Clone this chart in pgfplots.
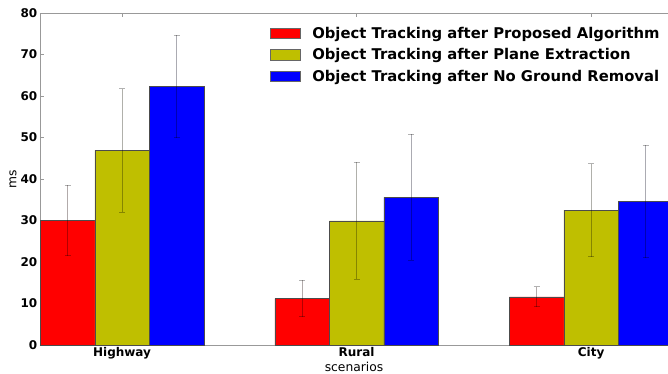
\documentclass[border=0pt]{standalone}
\usepackage{fontspec}
\setmainfont{DejaVu Sans}
\usepackage{pgfplots}
\pgfplotsset{compat=1.18}
\definecolor{myyellow}{HTML}{BFBF00}
\begin{document}
\begin{tikzpicture}
\useasboundingbox (-40pt,-28pt) rectangle (628pt,345pt);
\begin{axis}[
  scale only axis,
  width=628pt, height=332pt,
  xmin=-0.35, xmax=2.328,
  ymin=0, ymax=80,
  ytick={0,10,...,80},
  xtick={0,1,2},
  xticklabels={Highway,Rural,City},
  separate axis lines,
  axis x line*=box,
  axis y line*=left,
  axis line style={draw=black!40, line width=0.8pt},
  tick style={draw=black!40, line width=0.6pt},
  major tick length=4pt,
  tick align=inside,
  /pgf/number format/assume math mode=true,
  yticklabel={\bfseries\pgfmathprintnumber{\tick}},
  tick label style={font=\fontsize{12}{14}\selectfont\bfseries},
  yticklabel style={inner sep=2.5pt},
  xticklabel style={inner sep=2.5pt},
  xlabel={scenarios},
  ylabel={ms},
  every axis x label/.style={at={(axis description cs:0.5,0)}, yshift=-21.5pt, anchor=center, font=\fontsize{12.3}{14}\selectfont},
  every axis y label/.style={at={(axis description cs:0,0.5)}, xshift=-27pt, rotate=90, anchor=center, font=\fontsize{12.3}{14}\selectfont},
  legend style={draw=none, fill=none, at={(axis description cs:0.366,0.965)}, anchor=north west,
    font=\fontsize{14.8}{17}\selectfont\bfseries, row sep=5pt, inner sep=0pt,
    cells={anchor=west}},
  legend image code/.code={\draw[#1, draw=black!60, line width=0.4pt] (0pt,-5pt) rectangle (30pt,5.5pt); \path[draw=none] (0pt,0pt) (40pt,0pt);},
  legend cell align=left,
  every axis plot/.append style={
    ybar, bar width=0.2325, bar shift=0pt,
    draw=black!70, line width=0.5pt,
    error bars/y dir=both, error bars/y explicit,
    error bars/error bar style={draw=black, opacity=0.3, line width=0.9pt},
    error bars/error mark options={rotate=90, mark size=3pt, draw=black, opacity=0.3, line width=0.9pt}
  },
]
\addplot[fill=red] coordinates {
  (-0.2325,30.0) +- (0,8.5)
  (0.7675,11.2) +- (0,4.4)
  (1.7675,11.6) +- (0,2.4)
};
\addplot[fill=myyellow] coordinates {
  (0,46.9) +- (0,14.9)
  (1,29.9) +- (0,14.1)
  (2,32.5) +- (0,11.2)
};
\addplot[fill=blue] coordinates {
  (0.2325,62.3) +- (0,12.4)
  (1.2325,35.6) +- (0,15.2)
  (2.2325,34.6) +- (0,13.6)
};
\legend{Object Tracking after Proposed Algorithm, Object Tracking after Plane Extraction, Object Tracking after No Ground Removal}
\end{axis}
\end{tikzpicture}
\end{document}
